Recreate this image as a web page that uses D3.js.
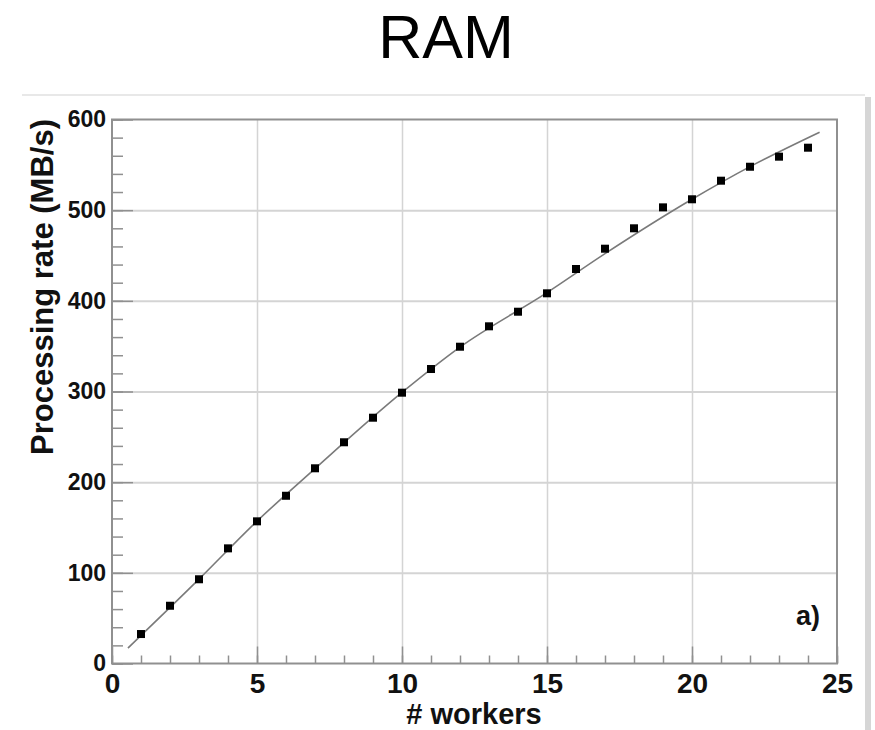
<!DOCTYPE html>
<html>
<head>
<meta charset="utf-8">
<script src="https://cdn.jsdelivr.net/npm/d3@7/dist/d3.min.js"></script>
<style>
  html, body { margin: 0; padding: 0; background: #ffffff; }
  svg { display: block; }
  text { font-family: "Liberation Sans", Arial, Helvetica, sans-serif; }
</style>
</head>
<body>
<svg id="chart" width="875" height="730"></svg>
<script>
// Processing rate measured for each number of workers (RAM storage)
const workers = [1, 2, 3, 4, 5, 6, 7, 8, 9, 10, 11, 12, 13, 14, 15, 16, 17, 18, 19, 20, 21, 22, 23, 24];
const rates = [32.5, 63.7, 92.9, 127, 156.8, 185, 215.3, 244, 271.1, 298.7, 324.8, 349.4,
               371.9, 388, 408.3, 435.1, 457.5, 480, 503.1, 512, 532.5, 547.9, 559, 568.9];

// Fitted trend curve, sampled along its length
const fitX = [0.55, 3, 5, 7, 10, 12, 15, 17, 20, 22, 24.4];
const fitY = [17, 93, 157, 215, 299, 349, 409, 452, 512, 548, 586];

// Axis ticks
const xTicks = [0, 5, 10, 15, 20, 25];
const xMinorTicks = d3.range(0, 26, 1);
const yTicks = [0, 100, 200, 300, 400, 500, 600];
const yMinorTicks = d3.range(0, 601, 20);
const gridX = [5, 10, 15, 20];
const gridY = [100, 200, 300, 400, 500];

const svg = d3.select("#chart");

const plotLeft = 112, plotRight = 837, plotTop = 119.5, plotBottom = 663.5;
const x = d3.scaleLinear().domain([0, 25]).range([plotLeft, plotRight]);
const y = d3.scaleLinear().domain([0, 600]).range([plotBottom, plotTop]);

// Title
svg.append("text")
  .attr("x", 446).attr("y", 58)
  .attr("text-anchor", "middle")
  .attr("font-size", 61)
  .attr("fill", "#000")
  .text("RAM");

// Figure panel with a soft edge and right-hand shadow
svg.append("rect")
  .attr("x", 22).attr("y", 95).attr("width", 843).attr("height", 640)
  .attr("fill", "#ffffff");
svg.append("line")
  .attr("x1", 22).attr("x2", 865).attr("y1", 95).attr("y2", 95)
  .attr("stroke", "#e8e8e8").attr("stroke-width", 2);
svg.append("rect")
  .attr("x", 865).attr("y", 97).attr("width", 6).attr("height", 640)
  .attr("fill", "#d6d6d6");

// Grid lines
const grid = svg.append("g").attr("class", "grid");
grid.append("g")
  .attr("transform", `translate(${plotLeft},0)`)
  .call(d3.axisLeft(y).tickValues(gridY).tickSize(-(plotRight - plotLeft)).tickFormat(""))
  .call(g => g.select(".domain").remove())
  .call(g => g.selectAll(".tick line").attr("stroke", "#d4d4d4").attr("stroke-width", 2));
grid.append("g")
  .attr("transform", `translate(0,${plotBottom})`)
  .call(d3.axisBottom(x).tickValues(gridX).tickSize(-(plotBottom - plotTop)).tickFormat(""))
  .call(g => g.select(".domain").remove())
  .call(g => g.selectAll(".tick line").attr("stroke", "#d4d4d4").attr("stroke-width", 1.5));

const axisColor = "#909090";

// Minor ticks (inside the frame)
svg.append("g")
  .attr("transform", `translate(${plotLeft},0)`)
  .call(d3.axisLeft(y).tickValues(yMinorTicks).tickSize(-11).tickFormat(""))
  .call(g => g.select(".domain").remove())
  .call(g => g.selectAll(".tick line").attr("stroke", axisColor).attr("stroke-width", 1.5));
svg.append("g")
  .attr("transform", `translate(0,${plotBottom})`)
  .call(d3.axisBottom(x).tickValues(xMinorTicks).tickSize(-8).tickFormat(""))
  .call(g => g.select(".domain").remove())
  .call(g => g.selectAll(".tick line").attr("stroke", axisColor).attr("stroke-width", 1.5));

// Major ticks with labels
svg.append("g")
  .attr("transform", `translate(${plotLeft},0)`)
  .call(d3.axisLeft(y).tickValues(yTicks).tickSize(-21).tickPadding(6))
  .call(g => g.select(".domain").remove())
  .call(g => g.selectAll(".tick line").attr("stroke", axisColor).attr("stroke-width", 1.5))
  .call(g => g.selectAll(".tick text")
    .attr("font-family", "Liberation Sans, Arial, sans-serif")
    .attr("font-size", 23).attr("font-weight", "bold").attr("fill", "#111"));
svg.append("g")
  .attr("transform", `translate(0,${plotBottom})`)
  .call(d3.axisBottom(x).tickValues(xTicks).tickSize(-17).tickPadding(10))
  .call(g => g.select(".domain").remove())
  .call(g => g.selectAll(".tick line").attr("stroke", axisColor).attr("stroke-width", 1.5))
  .call(g => g.selectAll(".tick text")
    .attr("font-family", "Liberation Sans, Arial, sans-serif")
    .attr("font-size", 28).attr("font-weight", "bold").attr("fill", "#111"));

// Frame
svg.append("rect")
  .attr("x", plotLeft).attr("y", plotTop)
  .attr("width", plotRight - plotLeft).attr("height", plotBottom - plotTop)
  .attr("fill", "none").attr("stroke", axisColor).attr("stroke-width", 2);

// Fitted curve
const fitData = fitX.map((v, i) => [v, fitY[i]]);
svg.append("path")
  .datum(fitData)
  .attr("fill", "none")
  .attr("stroke", "#7a7a7a")
  .attr("stroke-width", 1.6)
  .attr("d", d3.line().x(d => x(d[0])).y(d => y(d[1])).curve(d3.curveMonotoneX));

// Measured points
const size = 8;
svg.append("g")
  .selectAll("rect")
  .data(workers.map((w, i) => [w, rates[i]]))
  .join("rect")
  .attr("x", d => x(d[0]) - size / 2)
  .attr("y", d => y(d[1]) - size / 2)
  .attr("width", size).attr("height", size)
  .attr("fill", "#000");

// Axis titles
svg.append("text")
  .attr("x", 474).attr("y", 724)
  .attr("text-anchor", "middle")
  .attr("font-size", 29).attr("font-weight", "bold").attr("fill", "#111")
  .text("# workers");
svg.append("text")
  .attr("transform", "translate(53,287) rotate(-90)")
  .attr("text-anchor", "middle")
  .attr("font-size", 31).attr("font-weight", "bold").attr("fill", "#111")
  .text("Processing rate (MB/s)");

// Panel tag
svg.append("text")
  .attr("x", 820).attr("y", 625)
  .attr("text-anchor", "end")
  .attr("font-size", 27).attr("font-weight", "bold").attr("fill", "#111")
  .text("a)");
</script>
</body>
</html>
